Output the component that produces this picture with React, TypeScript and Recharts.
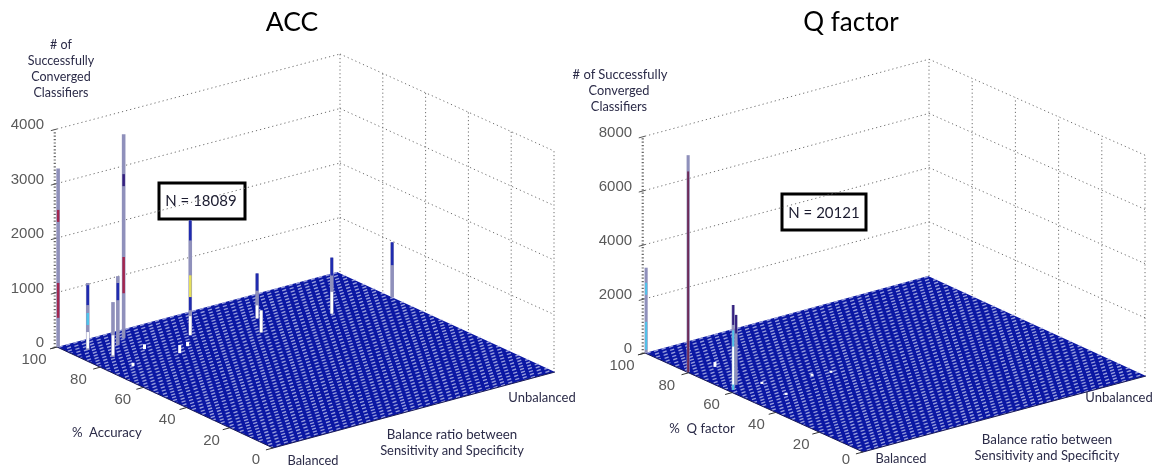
import { ComposedChart, Area, Line, XAxis, YAxis, ReferenceArea, ReferenceDot } from 'recharts';

const WIDTH = 1161;
const HEIGHT = 467;

// spikes
const accAccuracy = [100, 92.9, 90.9, 84.2, 94.3, 84.9, 84.2, 74.7, 74.6, 74.7, 83.9, 75.4, 75.2, 78.5];
const accBalance = [0.004, 0.055, 0.147, 0.078, 0.194, 0.359, 0.592, 0.533, 0.784, 1, 0.188, 0.248, 0.08, 0.3];
const accCount = [3270, 1230, 1266, 1009, 3743, 2110, 826, 404, 1028, 1009, 90, 150, 60, 80];

// coloured stretches of those spikes
const accBandSpike = [0, 0, 1, 1, 1, 2, 3, 4, 4, 5, 5, 5, 5, 6, 6, 7, 8, 8, 9, 10, 11, 12, 13];
const accBandLow = [2290, 530, 825, 460, 30, 825, 30, 2790, 825, 1740, 700, 460, 0, 510, 0, 0, 700, 0, 590, 0, 0, 0, 0];
const accBandHigh = [2510, 1170, 1190, 680, 330, 1140, 400, 3010, 1490, 2110, 1100, 700, 350, 826, 240, 404, 1028, 400, 1009, 90, 150, 60, 80];
const accBandTone = ['crimson', 'crimson', 'blue', 'cyan', 'white', 'blue', 'white', 'navy', 'crimson', 'blue', 'yellow', 'blue', 'white', 'blue', 'white', 'white', 'blue', 'white', 'blue', 'white', 'white', 'white', 'white'];

// spikes
const qAccuracy = [100, 80.6, 61.5, 64.2, 79.2, 60.4, 56.9, 55.6, 49.3];
const qBalance = [0.004, 0.003, 0.015, 0.046, 0.087, 0.108, 0.258, 0.315, 0.108];
const qCount = [3136, 8000, 3136, 2583, 180, 80, 80, 80, 80];

const qBandSpike = [0, 0, 1, 2, 2, 2, 3, 4, 5, 6, 7, 8];
const qBandLow = [2140, 110, 0, 0, 200, 2400, 1900, 0, 0, 0, 0, 0];
const qBandHigh = [2580, 1140, 7400, 2200, 1600, 3136, 2583, 180, 80, 80, 80, 80];
const qBandTone = ['cyan', 'cyan', 'maroon', 'cyan', 'white', 'navy', 'navy', 'white', 'white', 'white', 'white', 'white'];

const accuracyTicks = [100, 80, 60, 40, 20, 0];
const accCountTicks = [0, 1000, 2000, 3000, 4000];
const qCountTicks = [0, 2000, 4000, 6000, 8000];

const TONES: Record<string, string> = {
  crimson: '#a3264f',
  blue: '#1f2bb0',
  navy: '#35207f',
  cyan: '#4fc3ea',
  yellow: '#e6e05a',
  white: '#ffffff',
  maroon: '#6e2a58',
};

const TEXT_FONT = 'Lato, sans-serif';
const TICK_FONT = '"Liberation Sans", Arial, sans-serif';
const INK = '#2b2b48';

interface Pt { x: number; y: number }

interface Panel {
  id: string;
  left: Pt;
  front: Pt;
  right: Pt;
  back: Pt;
  wallBack: Pt;
  wallRight: Pt;
  zScale: number;
  countTicks: number[];
  accuracy: number[];
  balance: number[];
  count: number[];
  bandSpike: number[];
  bandLow: number[];
  bandHigh: number[];
  bandTone: string[];
  spikeWidth: number;
}

const panels: Panel[] = [
  {
    id: 'acc',
    left: { x: 57, y: 347 },
    front: { x: 273, y: 448 },
    right: { x: 555, y: 372 },
    back: { x: 337, y: 272 },
    wallBack: { x: 340, y: 272 },
    wallRight: { x: 554, y: 369 },
    zScale: 0.0545,
    countTicks: accCountTicks,
    accuracy: accAccuracy,
    balance: accBalance,
    count: accCount,
    bandSpike: accBandSpike,
    bandLow: accBandLow,
    bandHigh: accBandHigh,
    bandTone: accBandTone,
    spikeWidth: 3,
  },
  {
    id: 'q',
    left: { x: 645, y: 353 },
    front: { x: 863, y: 452 },
    right: { x: 1146, y: 376 },
    back: { x: 928, y: 276 },
    wallBack: { x: 929, y: 276 },
    wallRight: { x: 1145, y: 372 },
    zScale: 0.0271,
    countTicks: qCountTicks,
    accuracy: qAccuracy,
    balance: qBalance,
    count: qCount,
    bandSpike: qBandSpike,
    bandLow: qBandLow,
    bandHigh: qBandHigh,
    bandTone: qBandTone,
    spikeWidth: 2.5,
  },
];

// the MATLAB view: accuracy runs left->front, balance runs front->right
function project(p: Panel, accuracy: number, balance: number, count = 0): Pt {
  const u = (100 - accuracy) / 100;
  const v = balance;
  const x = (1 - u) * (1 - v) * p.left.x + u * (1 - v) * p.front.x + u * v * p.right.x + (1 - u) * v * p.back.x;
  const y = (1 - u) * (1 - v) * p.left.y + u * (1 - v) * p.front.y + u * v * p.right.y + (1 - u) * v * p.back.y;
  return { x, y: y - count * p.zScale };
}

// same thing on the back wall, whose corners sit slightly off the floor ones
function onWall(p: Panel, accuracy: number, count: number): Pt {
  const u = (100 - accuracy) / 100;
  return {
    x: p.wallBack.x + u * (p.wallRight.x - p.wallBack.x),
    y: p.wallBack.y + u * (p.wallRight.y - p.wallBack.y) - count * p.zScale,
  };
}

function yOnEdge(a: Pt, b: Pt, x: number) {
  return a.y + ((x - a.x) / (b.x - a.x)) * (b.y - a.y);
}

function floorBand(p: Panel) {
  const xs = [p.left.x, p.front.x, p.back.x, p.right.x];
  return xs.map((x) => {
    const top = x <= p.back.x ? yOnEdge(p.left, p.back, x) : yOnEdge(p.back, p.right, x);
    const bottom = x <= p.front.x ? yOnEdge(p.left, p.front, x) : yOnEdge(p.front, p.right, x);
    return { x, band: [top, bottom] };
  });
}

// flat part of the mesh, shows as slanted stippled stripes
function meshStripes(p: Panel) {
  const out: Pt[][] = [];
  for (let w = 0.012; w < 1.6; w += 0.0265) {
    const u0 = Math.max(0, (w - 1) / 0.6);
    const u1 = Math.min(1, w / 0.6);
    out.push([
      project(p, 100 - u0 * 100, w - 0.6 * u0),
      project(p, 100 - u1 * 100, w - 0.6 * u1),
    ]);
  }
  return out;
}

function seg(key: string, data: Pt[], stroke: string, strokeWidth: number, dash?: string, opacity = 1) {
  return (
    <Line
      key={key}
      data={data}
      dataKey="y"
      type="linear"
      stroke={stroke}
      strokeWidth={strokeWidth}
      strokeDasharray={dash}
      strokeOpacity={opacity}
      strokeLinecap="butt"
      dot={false}
      activeDot={false}
      legendType="none"
      isAnimationActive={false}
    />
  );
}

function wallLines(p: Panel) {
  const lines = [];
  const topCount = p.countTicks[p.countTicks.length - 1];
  p.countTicks.forEach((c, i) => {
    if (i === 0) return;
    const k = `${p.id}-wall-${c}`;
    lines.push(seg(`${k}-l`, [project(p, 100, 0, c), onWall(p, 100, c)], '#6f6f6f', 1, '1.2 3'));
    lines.push(seg(`${k}-r`, [onWall(p, 100, c), onWall(p, 0, c)], '#6f6f6f', 1, '1.2 3'));
  });
  accuracyTicks.forEach((a) => {
    lines.push(seg(`${p.id}-wall-v-${a}`, [onWall(p, a, 0), onWall(p, a, topCount)], '#6f6f6f', 1, '1.2 2.6'));
  });
  const axisBase = project(p, 100, -0.008, 0);
  const axisTop = project(p, 100, -0.008, topCount);
  lines.push(seg(`${p.id}-zaxis`, [axisBase, axisTop], '#666', 2.2, '1.2 2.2'));
  return lines;
}

function tickMarks(p: Panel) {
  const marks = [];
  p.countTicks.forEach((c) => {
    marks.push(seg(`${p.id}-ztick-${c}`, [project(p, 100, -0.022, c), project(p, 100, 0, c)], '#555', 1));
  });
  accuracyTicks.forEach((a) => {
    marks.push(seg(`${p.id}-atick-${a}`, [project(p, a, -0.025), project(p, a, 0)], '#333', 1));
  });
  return marks;
}

function spikes(p: Panel) {
  const out = [];
  p.accuracy.forEach((a, i) => {
    if (p.count[i] < 300) return;
    out.push(seg(`${p.id}-spike-${i}`, [project(p, a, p.balance[i]), project(p, a, p.balance[i], p.count[i])], '#8f90bb', p.spikeWidth + 0.6));
  });
  p.bandSpike.forEach((s, i) => {
    const a = p.accuracy[s];
    const b = p.balance[s];
    const wide = p.count[s] < 300 ? 3 : p.spikeWidth - 0.5;
    out.push(seg(`${p.id}-band-${i}`, [project(p, a, b, p.bandLow[i]), project(p, a, b, p.bandHigh[i])], TONES[p.bandTone[i]], wide));
  });
  return out;
}

function panelSeries(p: Panel) {
  const edge = [p.left, p.front, p.right];
  return [
    ...wallLines(p),
    <Area
      key={`${p.id}-floor`}
      data={floorBand(p)}
      dataKey="band"
      type="linear"
      fill="#0a17a3"
      fillOpacity={1}
      stroke="none"
      dot={false}
      activeDot={false}
      legendType="none"
      isAnimationActive={false}
    />,
    // slightly different dash per stripe so the dots do not line up across stripes
    ...meshStripes(p).map((line, i) => seg(`${p.id}-mesh-${i}`, line, '#cdd0f2', 4.2, `1.4 ${1.5 + (i % 4) * 0.13}`, 0.72)),
    seg(`${p.id}-edge`, edge, '#1c1c55', 1),
    ...tickMarks(p),
    ...spikes(p),
  ];
}

function note(key: string, x: number, y: number, value: string, fontSize = 12.5, fill = INK, fontFamily = TEXT_FONT) {
  return (
    <ReferenceDot
      key={key}
      x={x}
      y={y}
      r={0}
      stroke="none"
      fill="none"
      label={{ value, position: 'center', fontSize, fill, fontFamily }}
    />
  );
}

function tickLabels(p: Panel) {
  const labels = [];
  accuracyTicks.forEach((a) => {
    const at = project(p, a, 0);
    labels.push(note(`${p.id}-al-${a}`, at.x - 17 - 0.06 * a, Math.min(at.y + 11.5, 459), String(a), 15, '#5a5a5a', TICK_FONT));
  });
  p.countTicks.forEach((c) => {
    const at = project(p, 100, 0, c);
    const text = String(c);
    labels.push(note(`${p.id}-cl-${c}`, at.x - 13 - text.length * 4.15, at.y - 5, text, 15, '#5a5a5a', TICK_FONT));
  });
  return labels;
}

const texts: [number, number, string, number][] = [
  [61, 45, '# of', 12.5],
  [61, 61, 'Successfully', 12.5],
  [61, 77, 'Converged', 12.5],
  [61, 93, 'Classifiers', 12.5],
  [107, 432, '%\u00a0\u00a0Accuracy', 13.2],
  [542, 397, 'Unbalanced', 13],
  [313, 460, 'Balanced', 12.8],
  [452, 434, 'Balance ratio between', 13.3],
  [452, 450, 'Sensitivity and Specificity', 12.9],
  [620, 74, '# of Successfully', 13],
  [619, 90, 'Converged', 12.8],
  [619, 106, 'Classifiers', 12.8],
  [702, 428, '%\u00a0\u00a0Q factor', 13.2],
  [1119, 397, 'Unbalanced', 13],
  [901, 458, 'Balanced', 12.8],
  [1047, 439, 'Balance ratio between', 13.3],
  [1047, 455, 'Sensitivity and Specificity', 13],
];

export default function App() {
  return (
    <div style={{ position: 'absolute', left: 0, top: 0, width: WIDTH, height: HEIGHT, background: '#fff', filter: 'blur(0.45px)' }}>
      <ComposedChart width={WIDTH} height={HEIGHT} margin={{ top: 0, right: 0, bottom: 0, left: 0 }}>
        <XAxis type="number" dataKey="x" domain={[0, WIDTH]} hide allowDataOverflow />
        <YAxis type="number" domain={[0, HEIGHT]} reversed hide allowDataOverflow />
        {panels.flatMap(panelSeries)}
        <ReferenceArea x1={159} x2={245} y1={183} y2={219} fill="#fff" fillOpacity={1} stroke="#000" strokeWidth={3} ifOverflow="visible" />
        <ReferenceArea x1={782} x2={866} y1={194} y2={230} fill="#fff" fillOpacity={1} stroke="#000" strokeWidth={3} ifOverflow="visible" />
        {note('box-acc', 201, 201, 'N = 18089', 15, '#1c1c30')}
        {note('box-q', 824, 213, 'N = 20121', 15, '#1c1c30')}
        {note('title-acc', 292, 22, 'ACC', 26.5, '#000')}
        {note('title-q', 851, 22, 'Q factor', 26, '#000')}
        {panels.flatMap(tickLabels)}
        {texts.map(([x, y, t, size], i) => note(`t-${i}`, x, y, t, size))}
      </ComposedChart>
    </div>
  );
}
